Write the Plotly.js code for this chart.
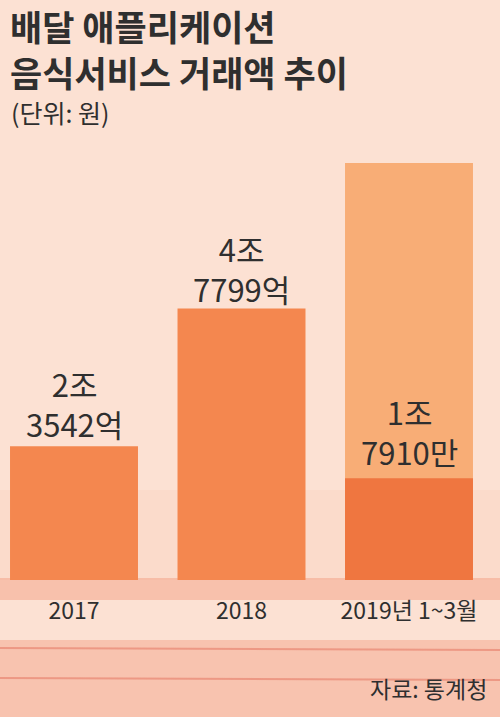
<!DOCTYPE html>
<html>
<head>
<meta charset="utf-8">
<script src="https://cdn.plot.ly/plotly-3.0.1.min.js"></script>
<style>
  html, body { margin: 0; padding: 0; background: #FCE1D3; }
  #chart { width: 500px; height: 717px; }
</style>
</head>
<body>
<div id="chart"></div>
<script>
// ---- data (unit: 억 원) ----
const categories = ["2017", "2018", "2019년 1~3월"];
const values = [23542, 47799, 17910];          // 2조 3542억, 4조 7799억, 1조 7910(억)
const projected2019 = [null, null, 73400];      // lighter background bar for 2019
const labelTop = ["2조", "4조", "1조"];
const labelBottom = ["3542억", "7799억", "7910만"];
const titleLines = ["배달 애플리케이션", "음식서비스 거래액 추이"];
const unitText = "(단위: 원)";
const sourceText = "자료: 통계청";

const FONT = "'Noto Sans CJK KR', 'Noto Sans', sans-serif";
const TXT = "#2f2f2f";
const mainColor = "#F4874F";
const q1Color = "#EF7640";
const lightColor = "#F8AD76";

const xIdx = categories.map((_, i) => i);
const PLOT_H = 580;
const py = p => (PLOT_H - p) / PLOT_H;   // pixel row -> paper y

const traces = [
  {
    type: "bar", x: xIdx, y: projected2019, width: 0.764,
    marker: { color: lightColor }, hoverinfo: "skip", showlegend: false
  },
  {
    type: "bar", x: xIdx, y: values, width: 0.764,
    marker: { color: [mainColor, mainColor, q1Color] }, hoverinfo: "skip", showlegend: false
  }
];

const annotations = [];
annotations.push({
  xref: "paper", yref: "paper", x: 8 / 500, y: py(48),
  xanchor: "left", yanchor: "middle", showarrow: false, align: "left",
  text: titleLines.join("<br>"), font: { family: FONT, size: 35, color: TXT, weight: 700 }
});
annotations.push({
  xref: "paper", yref: "paper", x: 9 / 500, y: py(112),
  xanchor: "left", yanchor: "middle", showarrow: false,
  text: unitText, font: { family: FONT, size: 25, color: TXT }
});
const labelShift = [43, 40, 47];
values.forEach((v, i) => {
  annotations.push({
    x: i, y: v, xref: "x", yref: "y", xanchor: "center", yanchor: "middle",
    yshift: labelShift[i], showarrow: false, align: "center",
    text: labelTop[i] + "<br>" + labelBottom[i],
    font: { family: FONT, size: 31, color: TXT }
  });
});
annotations.push({
  xref: "paper", yref: "paper", x: 489 / 500, y: py(688),
  xanchor: "right", yanchor: "middle", showarrow: false,
  text: sourceText, font: { family: FONT, size: 23, color: TXT }
});

// background texture (decorative washes)
const shapes = [
  { type: "rect", xref: "paper", yref: "paper", x0: 0, x1: 1, y0: py(580), y1: py(490), fillcolor: "rgba(240,140,105,0.07)", line: { width: 0 }, layer: "below" },
  { type: "rect", xref: "paper", yref: "paper", x0: 0, x1: 1, y0: py(600), y1: py(578), fillcolor: "rgba(240,135,100,0.35)", line: { width: 0 }, layer: "below" },
  { type: "rect", xref: "paper", yref: "paper", x0: 0, x1: 1, y0: py(717), y1: py(640), fillcolor: "rgba(240,135,100,0.32)", line: { width: 0 }, layer: "below" },
  { type: "line", xref: "paper", yref: "paper", x0: 0, x1: 1, y0: py(648), y1: py(650), line: { color: "rgba(225,100,80,0.45)", width: 2 }, layer: "below" },
  { type: "line", xref: "paper", yref: "paper", x0: 0, x1: 1, y0: py(678), y1: py(680), line: { color: "rgba(225,100,80,0.45)", width: 2 }, layer: "below" }
];

const layout = {
  width: 500, height: 717,
  margin: { l: 0, r: 0, t: 0, b: 137, pad: 0 },
  paper_bgcolor: "#FCE1D3", plot_bgcolor: "rgba(0,0,0,0)",
  barmode: "overlay",
  showlegend: false,
  xaxis: {
    range: [-74 / 167.5, (500 - 74) / 167.5],
    tickvals: xIdx, ticktext: categories,
    tickfont: { family: FONT, size: 23, color: TXT },
    showgrid: false, zeroline: false, showline: false, ticks: "",
    ticklabelstandoff: 15, fixedrange: true
  },
  yaxis: {
    range: [0, 580 * 176],
    visible: false, showgrid: false, zeroline: false, fixedrange: true
  },
  annotations: annotations,
  shapes: shapes
};

Plotly.newPlot("chart", traces, layout, { displayModeBar: false, staticPlot: true });
</script>
</body>
</html>
